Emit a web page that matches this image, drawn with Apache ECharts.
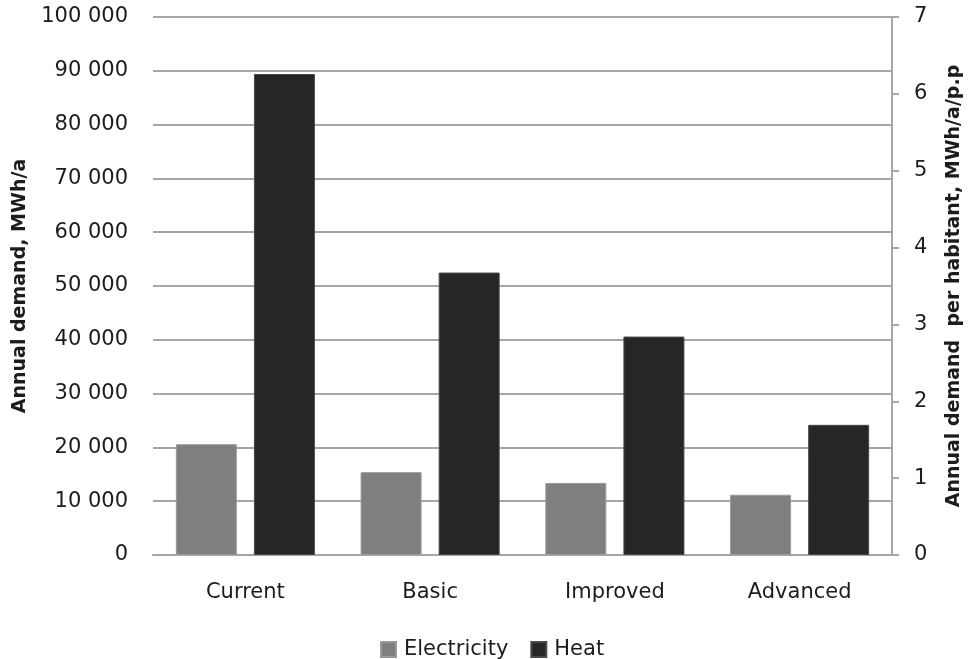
<!DOCTYPE html>
<html>
<head>
<meta charset="utf-8">
<script src="https://cdn.jsdelivr.net/npm/echarts@6/dist/echarts.min.js"></script>
<style>
  html, body { margin: 0; padding: 0; background: #ffffff; }
  #chart { width: 973px; height: 659px; }
</style>
</head>
<body>
<div id="chart"></div>
<script>
// Scenario categories and annual demand per scenario (MWh/a)
const categories = ['Current', 'Basic', 'Improved', 'Advanced'];
const electricity = [20600, 15400, 13400, 11200];
const heat = [89400, 52500, 40600, 24200];

// Axis ranges
const leftMax = 100000;
const leftStep = 10000;
const rightMax = 7;
const rightStep = 1;

const FONT = '"DejaVu Sans", Verdana, sans-serif';
const TEXT = '#1c1c1c';
const GRID = '#a6a6a6';

function spaced(v) {
  return String(v).replace(/\B(?=(\d{3})+(?!\d))/g, ' ');
}

const chart = echarts.init(document.getElementById('chart'), null, { renderer: 'canvas' });

chart.setOption({
  animation: false,
  backgroundColor: '#ffffff',
  textStyle: { fontFamily: FONT, color: TEXT },
  grid: {
    left: 153, right: 81, top: 17, bottom: 104,
    containLabel: false,
    outerBoundsMode: 'none'
  },
  legend: {
    bottom: -6,
    left: 375,
    itemWidth: 15,
    itemHeight: 15,
    itemGap: 22,
    icon: 'rect',
    textStyle: { fontFamily: FONT, fontSize: 21, color: TEXT, padding: [0, 0, 0, 3] },
    data: ['Electricity', 'Heat']
  },
  xAxis: {
    type: 'category',
    data: categories,
    axisLine: { show: true, lineStyle: { color: GRID, width: 2 } },
    axisTick: { show: false },
    axisLabel: { fontFamily: FONT, fontSize: 21, color: TEXT, margin: 27 }
  },
  yAxis: [
    {
      type: 'value',
      min: 0,
      max: leftMax,
      interval: leftStep,
      name: 'Annual demand, MWh/a',
      nameLocation: 'middle',
      nameGap: 123,
      nameTextStyle: { fontFamily: FONT, fontSize: 19, fontWeight: 'bold', color: TEXT },
      axisLine: { show: false },
      axisTick: { show: false },
      splitLine: { show: true, lineStyle: { color: GRID, width: 2 } },
      axisLabel: {
        fontFamily: FONT, fontSize: 21, color: TEXT, margin: 25,
        formatter: spaced
      }
    },
    {
      type: 'value',
      position: 'right',
      min: 0,
      max: rightMax,
      interval: rightStep,
      name: 'Annual demand  per habitant, MWh/a/p.p',
      nameLocation: 'middle',
      nameGap: 53,
      nameRotate: 90,
      nameTextStyle: { fontFamily: FONT, fontSize: 19, fontWeight: 'bold', color: TEXT },
      axisLine: { show: true, lineStyle: { color: GRID, width: 2 } },
      axisTick: { show: true, length: 7, lineStyle: { color: GRID, width: 2 } },
      splitLine: { show: false },
      axisLabel: { fontFamily: FONT, fontSize: 21, color: TEXT, margin: 22 }
    }
  ],
  series: [
    {
      name: 'Electricity',
      type: 'bar',
      yAxisIndex: 0,
      data: electricity,
      barWidth: 61,
      barGap: '28%',
      itemStyle: { color: '#7f7f7f', borderColor: '#9a9a9a', borderWidth: 1 }
    },
    {
      name: 'Heat',
      type: 'bar',
      yAxisIndex: 0,
      data: heat,
      barWidth: 61,
      barGap: '28%',
      itemStyle: { color: '#262626', borderColor: '#4a4a4a', borderWidth: 1 }
    }
  ]
});
</script>
</body>
</html>
